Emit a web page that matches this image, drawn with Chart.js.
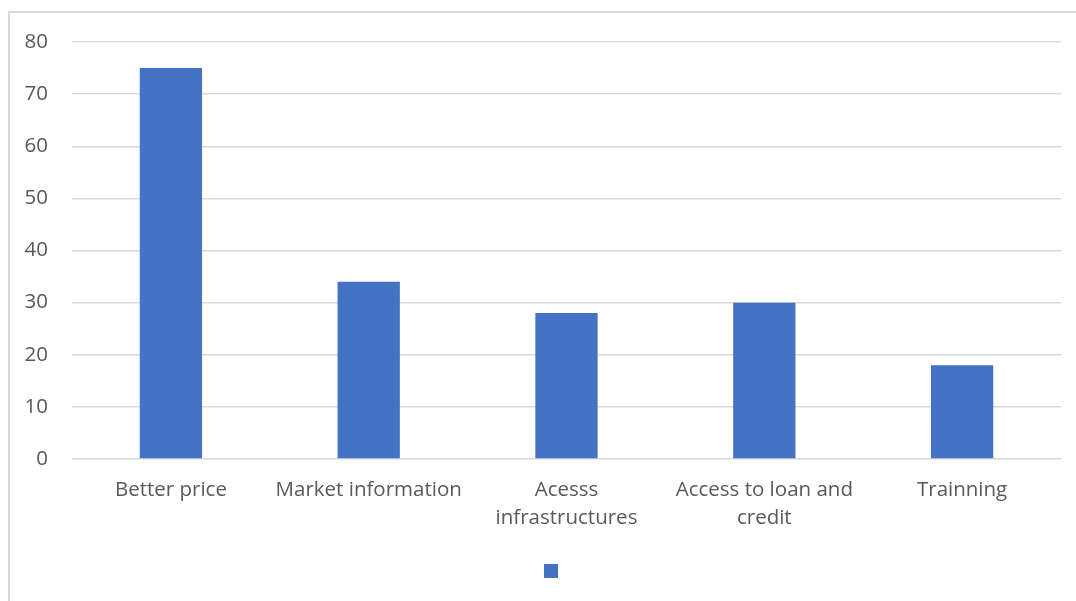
<!DOCTYPE html>
<html>
<head>
<meta charset="utf-8">
<script src="https://cdn.jsdelivr.net/npm/chart.js@4.4.1/dist/chart.umd.min.js"></script>
<style>
    body { margin: 0; background: #fff; overflow: hidden; }
    #frame {
        position: absolute; left: 8px; top: 11px; width: 1100px; height: 620px;
        border-left: 2px solid #d9d9d9; border-top: 2px solid #d9d9d9;
    }
    #chartContainer { position: absolute; left: 0; top: 0; width: 1076px; height: 601px; }
</style>
</head>
<body>
<div id="frame"></div>
<div id="chartContainer"><canvas id="barChart"></canvas></div>
<script>
const categories = ['Better price', 'Market information', ['Acesss', 'infrastructures'], ['Access to loan and', 'credit'], 'Trainning']
const values = [75, 34, 28, 30, 18]
const yMin = 0
const yMax = 80
const yStep = 10

const textColor = '#595959'
const gridColor = '#d9d9d9'
const barColor = '#4472c4'

Chart.defaults.font.family = '"Open Sans", "Noto Sans", sans-serif'
Chart.defaults.font.size = 20.5
Chart.defaults.color = textColor

const ctx = document.getElementById('barChart')
const barChart = new Chart(ctx, {
    type: 'bar',
    data: {
        labels: categories,
        datasets: [{
            label: '',
            data: values,
            backgroundColor: barColor,
            borderWidth: 0,
            barPercentage: 0.63,
            categoryPercentage: 0.5,
        }],
    },
    options: {
        responsive: true,
        maintainAspectRatio: false,
        animation: false,
        layout: {
            padding: { left: 50, right: 15, top: 42, bottom: 11 },
        },
        plugins: {
            legend: {
                position: 'bottom',
                labels: { boxWidth: 14, boxHeight: 14, padding: 10, font: { size: 18 } },
            },
            tooltip: { enabled: false },
        },
        scales: {
            x: {
                grid: { display: false },
                border: { display: false },
                ticks: { autoSkip: false, maxRotation: 0, padding: 9, color: textColor, font: { lineHeight: 1.37 } },
                afterFit: (scale) => { scale.height = 93 },
            },
            y: {
                min: yMin,
                max: yMax,
                grid: { color: gridColor, lineWidth: 1.5, drawTicks: false },
                border: { display: false },
                // mirrored labels are not clipped to the axis box, so they can sit left of it
                ticks: { stepSize: yStep, mirror: true, crossAlign: 'far', padding: -47.5, color: textColor },
                afterFit: (scale) => { scale.width = 22 },
            },
        },
    },
})
</script>
</body>
</html>
